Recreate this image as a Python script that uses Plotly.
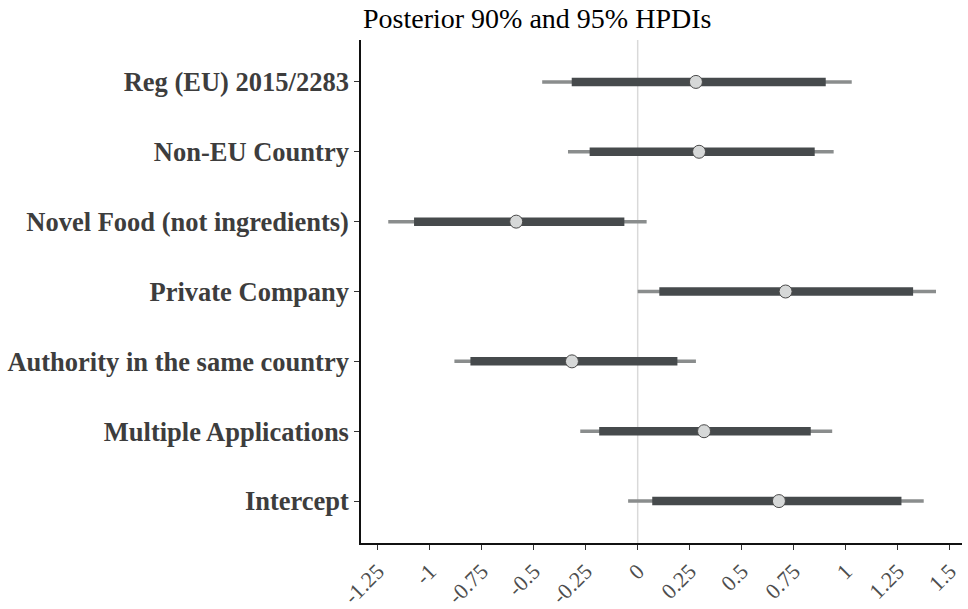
import plotly.graph_objects as go

params = ["Intercept", "Multiple Applications", "Authority in the same country",
          "Private Company", "Novel Food (not ingredients)", "Non-EU Country",
          "Reg (EU) 2015/2283"]
median = [0.679, 0.319, -0.316, 0.711, -0.584, 0.295, 0.280]
hpdi95_low = [-0.046, -0.276, -0.881, 0.000, -1.199, -0.335, -0.459]
hpdi95_high = [1.375, 0.935, 0.280, 1.434, 0.043, 0.942, 1.029]
hpdi90_low = [0.070, -0.185, -0.804, 0.104, -1.075, -0.231, -0.317]
hpdi90_high = [1.268, 0.832, 0.191, 1.324, -0.064, 0.851, 0.904]
tick_vals = [-1.25, -1, -0.75, -0.5, -0.25, 0, 0.25, 0.5, 0.75, 1, 1.25, 1.5]
tick_text = ["-1.25", "-1", "-0.75", "-0.5", "-0.25", "0", "0.25", "0.5", "0.75", "1", "1.25", "1.5"]

def segs(lo, hi):
    xs, ys = [], []
    for p, a, b in zip(params, lo, hi):
        xs += [a, b, None]
        ys += [p, p, None]
    return xs, ys

fig = go.Figure()
x95, y95 = segs(hpdi95_low, hpdi95_high)
fig.add_trace(go.Scatter(x=x95, y=y95, mode="lines",
                         line=dict(color="#8a8d8d", width=3.5), hoverinfo="skip"))
x90, y90 = segs(hpdi90_low, hpdi90_high)
fig.add_trace(go.Scatter(x=x90, y=y90, mode="lines",
                         line=dict(color="#464a4c", width=8.5), hoverinfo="skip"))
fig.add_trace(go.Scatter(x=median, y=params, mode="markers",
                         marker=dict(size=13, color="#d6d8d8",
                                     line=dict(color="#4a4a4a", width=1))))

fig.add_vline(x=0, line=dict(color="#d9d9d9", width=1.5), layer="below")

serif = "Liberation Serif, Times New Roman, serif"
fig.update_layout(
    width=968, height=609,
    margin=dict(l=361, r=6, t=40, b=66),
    paper_bgcolor="white", plot_bgcolor="white",
    showlegend=False,
    title=dict(text="Posterior 90% and 95% HPDIs", x=363 / 968, xanchor="left",
               y=1 - 18 / 609, yanchor="middle",
               font=dict(family=serif, size=28, color="black")),
    font=dict(family=serif),
)
fig.update_xaxes(range=[-1.330, 1.559], tickvals=tick_vals, ticktext=tick_text,
                 tickangle=-45, showgrid=False, zeroline=False, automargin=False,
                 showline=True, linecolor="#111", linewidth=1.5,
                 ticks="outside", ticklen=5, tickcolor="#333", tickwidth=1.2,
                 tickfont=dict(family=serif, size=22, color="#4d4d4d"))
fig.update_yaxes(type="category", categoryorder="array", categoryarray=params,
                 range=[-0.6, 6.6], showgrid=False, zeroline=False, automargin=False,
                 showline=True, linecolor="#111", linewidth=1.5,
                 ticks="outside", ticklen=5, tickcolor="#333", tickwidth=1.2,
                 tickfont=dict(family=serif, size=26.5, color="#3d3d3d", weight="bold"))

fig.write_html("out.html")
